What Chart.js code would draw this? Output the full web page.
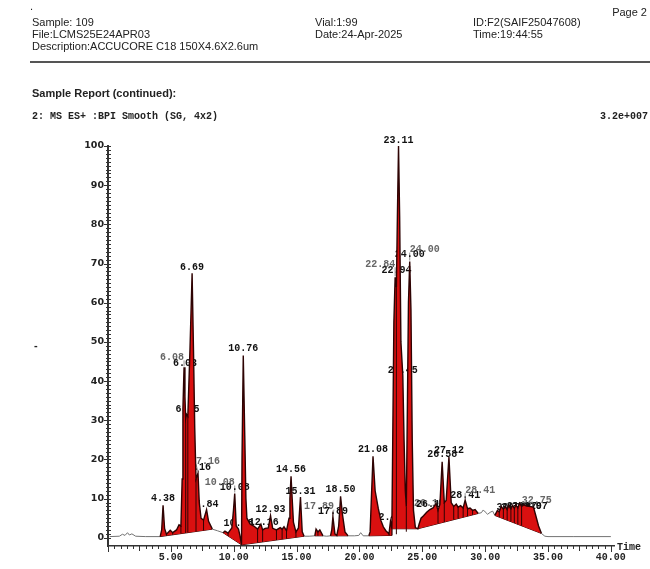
<!DOCTYPE html>
<html>
<head>
<meta charset="utf-8">
<script src="https://cdn.jsdelivr.net/npm/chart.js@4.4.1/dist/chart.umd.min.js"></script>
<style>
  body { margin: 0; background: #fff; }
  #page { position: relative; width: 650px; height: 569px; overflow: hidden;
          font-family: "Liberation Sans", Arial, sans-serif; color: #222; }
  .t { position: absolute; font-size: 11px; line-height: 12px; white-space: pre; }
  .m { font-family: "Liberation Mono", monospace; font-size: 10px; font-weight: bold; }
  #rule { position: absolute; left: 30px; top: 61px; width: 620px; height: 0;
          border-top: 2px solid #555; }
  #chart { position: absolute; left: 0; top: 0; }
</style>
</head>
<body>
<div id="page">
  <canvas id="chart" width="650" height="569"></canvas>
  <div class="t" style="left:30px;top:0px;">.</div>
  <div class="t" style="right:3px;top:6px;">Page 2</div>
  <div class="t" style="left:32px;top:16px;">Sample: 109</div>
  <div class="t" style="left:32px;top:28px;">File:LCMS25E24APR03</div>
  <div class="t" style="left:32px;top:40px;">Description:ACCUCORE C18 150X4.6X2.6um</div>
  <div class="t" style="left:315px;top:16px;">Vial:1:99</div>
  <div class="t" style="left:315px;top:28px;">Date:24-Apr-2025</div>
  <div class="t" style="left:473px;top:16px;">ID:F2(SAIF25047608)</div>
  <div class="t" style="left:473px;top:28px;">Time:19:44:55</div>
  <div id="rule"></div>
  <div class="t" style="left:32px;top:87px;font-weight:bold;">Sample Report (continued):</div>
  <div class="t m" style="left:32px;top:111px;">2: MS ES+ :BPI Smooth (SG, 4x2)</div>
  <div class="t m" style="right:2px;top:111px;">3.2e+007</div>
  <div class="t" style="left:34px;top:339px;font-weight:bold;">-</div>
</div>
<script>
// retention time (min) and relative intensity (%) of the BPI trace
const signalTime = [
  0.13, 0.9, 1.15, 1.35, 1.55, 1.7, 1.9, 2.2, 3.0, 4.15,
  4.27, 4.38, 4.5, 4.65, 4.95, 5.15, 5.45, 5.65, 5.8, 5.9,
  5.96, 6.05, 6.12, 6.18, 6.25, 6.35, 6.52, 6.69, 6.8, 6.9, 7.0,
  7.16, 7.26, 7.4, 7.6, 7.84, 8.0, 8.3, 8.7, 9.15, 9.3,
  9.55, 9.85, 9.98, 10.08, 10.2, 10.38, 10.5, 10.62, 10.66, 10.76,
  10.88, 10.97, 11.05, 11.3, 11.6, 11.9, 12.16, 12.3, 12.5, 12.75,
  12.93, 13.1, 13.4, 13.7, 13.85, 14.0, 14.2, 14.4, 14.47, 14.56, 14.65, 14.75,
  14.95, 15.15, 15.31, 15.45, 15.6, 16.0, 16.45, 16.55, 16.7, 16.85,
  17.1, 17.4, 17.7, 17.8, 17.89, 18.05, 18.2, 18.35, 18.5, 18.65,
  18.85, 19.1, 19.6, 19.95, 20.1, 20.3, 20.75, 20.85, 20.95, 21.08,
  21.25, 21.5, 21.7, 21.9, 22.1, 22.35, 22.47, 22.58, 22.65, 22.74,
  22.84, 22.94, 23.02, 23.11, 23.2, 23.3, 23.45, 23.55, 23.65, 23.73, 23.82,
  23.9, 24.0, 24.1, 24.2, 24.3, 24.45, 24.65, 24.75, 24.9, 25.1,
  25.35, 25.6, 25.85, 26.1, 26.25, 26.4, 26.58, 26.75, 26.9, 27.12,
  27.3, 27.5, 27.7, 27.85, 28.05, 28.25, 28.41, 28.6, 28.8, 29.0,
  29.2, 29.45, 29.7, 29.85, 30.0, 30.2, 30.4, 30.6, 30.77, 30.98,
  31.12, 31.28, 31.45, 31.6, 31.75, 31.87, 32.05, 32.19, 32.32, 32.45,
  32.6, 32.75, 32.9, 33.07, 33.3, 33.6, 33.85, 34.0, 34.25, 34.48,
  34.75, 35.0, 37.0, 40.0
];
const signalIntensity = [
  0.3, 0.4, 0.9, 0.6, 1.3, 0.7, 1.0, 0.4, 0.3, 0.3,
  2.0, 8.3, 2.4, 0.9, 1.9, 1.3, 2.0, 3.3, 3.0, 15,
  33, 43.5, 36, 30.5, 31.5, 31, 48, 67.5, 48, 28, 15,
  16.5, 9, 5, 4.5, 7.2, 4.2, 2.2, 1.8, 1.3, 1.7,
  1.2, 2.5, 7, 11.3, 3.0, 2.2, 0.5, -1.8, 20, 46.5,
  26, 10, 5, 3.5, 3.0, 2.2, 3.5, 2.0, 2.4, 2.5,
  5.6, 2.4, 2.0, 2.6, 2.2, 2.8, 1.8, 5, 10, 15.7, 10, 4,
  1.5, 2.5, 10.4, 1.5, 0.4, 0.4, 0.5, 2.2, 1.5, 2.0,
  0.5, 0.4, 0.5, 2.0, 5.4, 1.0, 0.6, 3.0, 10.6, 6.0,
  1.5, 0.5, 0.5, 0.6, 1.3, 0.5, 0.5, 1.5, 10.0, 20.8,
  12, 7.5, 4.5, 2.8, 1.8, 1.0, 4.2, 2.3, 25, 55,
  66.5, 64, 82, 100, 82, 50, 41.5, 25, 12, 8, 35,
  60, 70.5, 58, 25, 7, 2.6, 2.3, 3.5, 5.0, 5.6,
  6.5, 7.2, 7.6, 8.7, 7.0, 8.5, 19.4, 9.0, 9.5, 20.6,
  9.0, 8.0, 8.6, 7.8, 8.2, 7.6, 9.6, 7.4, 7.6, 7.0,
  7.2, 6.2, 6.4, 7.1, 6.6, 6.0, 6.5, 6.8, 5.7, 7.0,
  6.6, 8.0, 7.3, 7.9, 7.2, 8.2, 7.4, 8.3, 7.5, 8.4,
  7.6, 8.8, 8.0, 8.4, 8.1, 8.0, 7.8, 6.0, 3.0, 1.1,
  0.4, 0.3, 0.3, 0.3
];

// integration baselines drawn under the peaks: [time, intensity] anchors
const baselineSegments = [
  [[4.15, 0.3], [8.3, 2.2]],
  [[9.15, 1.3], [10.62, -1.8], [15.6, 0.4]],
  [[16.45, 0.5], [17.1, 0.5]],
  [[17.7, 0.5], [19.1, 0.5]],
  [[20.75, 0.5], [22.58, 0.6], [22.58, 2.3], [24.65, 2.3]],
  [[24.65, 2.3], [29.45, 6.2]],
  [[30.77, 5.7], [34.48, 1.1]]
];

// peak annotations
const peakLabelText = [
  '4.38', '6.08', '6.03', '6.69', '6.25', '7.16', '7.16', '7.84',
  '10.08', '10.08', '10.76', '10.38', '12.16', '12.93', '14.56', '15.31',
  '17.89', '17.89', '18.50', '21.08', '22.47', '22.84', '22.94', '23.11',
  '24.00', '24.00', '23.45', '26.10', '26.10', '26.58', '27.12', '28.41',
  '28.41', '30.98', '31.28', '31.87', '32.19', '33.07', '32.75'
];
const peakLabelTime = [
  4.38, 6.05, 6.05, 6.69, 6.25, 7.16, 7.16, 7.84,
  10.08, 10.08, 10.76, 10.38, 12.16, 12.93, 14.56, 15.31,
  17.89, 17.89, 18.5, 21.08, 22.47, 22.84, 22.94, 23.11,
  24.0, 24.0, 23.45, 26.1, 26.1, 26.58, 27.12, 28.41,
  28.41, 30.98, 31.28, 31.87, 32.19, 33.07, 32.75
];
const peakLabelHeight = [
  8.3, 43.5, 43.5, 67.5, 31.5, 16.5, 16.5, 7.2,
  11.3, 11.3, 46.5, 2.2, 3.5, 5.6, 15.7, 10.4,
  5.4, 5.4, 10.6, 20.8, 4.2, 66.5, 64, 100,
  70.5, 70.5, 41.5, 8.7, 8.7, 19.4, 20.6, 9.6,
  9.6, 7.0, 8.0, 8.2, 8.3, 8.4, 8.8
];

const xTickValues = [5, 10, 15, 20, 25, 30, 35, 40];
const yTickValues = [0, 10, 20, 30, 40, 50, 60, 70, 80, 90, 100];

// label placement (pixel shift from the default spot above the apex) and muted labels
const labelShift = [
  [0, 0], [-12, -3], [1, 3], [0, 1], [1, 2], [1, 1], [10, -5], [0, 2],
  [-15, -4], [0, 1], [0, 0], [0, 1], [3, 5], [0, 1], [0, 0], [0, 1],
  [-14, -3], [0, 2], [0, 0], [0, 0], [-3, 3], [-15, -6], [0, -10], [0, 1],
  [15, -5], [0, 0], [0, 2], [-7, 7], [-5, 8], [0, 0], [0, 0], [0, 2],
  [15, -3], [14, 4], [15, 8], [13, 8], [14, 8], [9, 9], [17, 4]
];
const labelMuted = [
  false, true, false, false, false, false, true, false,
  true, false, false, false, false, false, false, false,
  true, false, false, false, false, true, false, false,
  true, false, false, true, false, false, false, false,
  true, false, false, false, false, false, true
];

const FILL_RED = 'rgb(218, 16, 16)';
const PEAK_EDGE = '#2e0303';
const TRACE_GREY = '#727272';

function inWindow(t) {
  return baselineSegments.some(seg => t > seg[0][0] && t < seg[seg.length - 1][0]);
}

const signalPoints = signalTime.map((t, i) => ({ x: t, y: signalIntensity[i] }));

// baseline follows the trace except where an integration line replaces it
const baselinePoints = [];
signalPoints.forEach(p => {
  if (!baselineSegments.some(seg => p.x >= seg[0][0] && p.x <= seg[seg.length - 1][0])) {
    baselinePoints.push(p);
  }
});
baselineSegments.forEach(seg => seg.forEach(([t, v]) => baselinePoints.push({ x: t, y: v })));
baselinePoints.sort((a, b) => a.x - b.x);

const segColor = (ctx, inside, outside) =>
  inWindow((ctx.p0.parsed.x + ctx.p1.parsed.x) / 2) ? inside : outside;

const peakLabels = {
  id: 'peakLabels',
  beforeDatasetsDraw(chart) {
    const { ctx, scales: { x, y } } = chart;
    ctx.save();
    ctx.font = 'bold 10px "Liberation Mono", monospace';
    ctx.textAlign = 'center';
    ctx.textBaseline = 'middle';
    peakLabelText.forEach((txt, i) => {
      const px = x.getPixelForValue(peakLabelTime[i]);
      const py = y.getPixelForValue(peakLabelHeight[i]);
      const cx = px + labelShift[i][0];
      const cy = py - 7 + labelShift[i][1];
      if (labelMuted[i]) {
        const w = ctx.measureText(txt).width;
        ctx.strokeStyle = '#777';
        ctx.lineWidth = 0.8;
        ctx.beginPath();
        ctx.moveTo(cx + (labelShift[i][0] < 0 ? w / 2 : -w / 2), cy + 3);
        ctx.lineTo(px, py - 1);
        ctx.stroke();
        ctx.fillStyle = '#666';
      } else {
        ctx.fillStyle = '#111';
      }
      ctx.fillText(txt, cx, cy);
    });
    ctx.restore();
  }
};

// vertical drop lines from each valley inside an integrated window down to its baseline
const dropLines = {
  id: 'dropLines',
  afterDatasetsDraw(chart) {
    const { ctx, scales: { x, y } } = chart;
    const base = chart.getDatasetMeta(1).dataset;
    if (!base || !base.interpolate) return;
    ctx.save();
    ctx.strokeStyle = PEAK_EDGE;
    ctx.lineWidth = 1;
    ctx.beginPath();
    for (let i = 1; i < signalTime.length - 1; i++) {
      const v = signalIntensity[i];
      if (v < signalIntensity[i - 1] && v < signalIntensity[i + 1] && inWindow(signalTime[i])) {
        const px = x.getPixelForValue(signalTime[i]);
        const hit = base.interpolate({ x: px }, 'x');
        if (!hit) continue;
        ctx.moveTo(px, y.getPixelForValue(v));
        ctx.lineTo(px, hit.y);
      }
    }
    ctx.stroke();
    ctx.restore();
  }
};

const axisTicks = {
  id: 'axisTicks',
  afterDraw(chart) {
    const { ctx, chartArea, scales: { x, y } } = chart;
    ctx.save();
    ctx.strokeStyle = '#333';
    ctx.lineWidth = 1;
    ctx.beginPath();
    const ax = chartArea.left;
    for (let v = 0; v <= 100; v++) {
      const py = Math.round(y.getPixelForValue(v)) + 0.5;
      ctx.moveTo(ax - (v % 10 === 0 ? 4 : 2), py);
      ctx.lineTo(ax + 3, py);
    }
    const ay = chartArea.bottom;
    for (let t = 0; t <= 40; t += 0.5) {
      const px = Math.round(x.getPixelForValue(t)) + 0.5;
      const len = t % 5 === 0 ? 6 : (t % 2.5 === 0 ? 5 : 3);
      ctx.moveTo(px, ay);
      ctx.lineTo(px, ay + len);
    }
    ctx.stroke();
    ctx.fillStyle = '#222';
    ctx.font = 'bold 10px "Liberation Mono", monospace';
    ctx.textAlign = 'left';
    ctx.textBaseline = 'middle';
    ctx.fillText('Time', chartArea.right + 3, ay + 1);
    ctx.restore();
  }
};

new Chart(document.getElementById('chart'), {
  type: 'line',
  data: {
    datasets: [
      {
        label: 'BPI',
        data: signalPoints,
        borderWidth: 1.4,
        borderColor: TRACE_GREY,
        segment: {
          borderColor: ctx => segColor(ctx, PEAK_EDGE, TRACE_GREY),
          borderWidth: ctx => segColor(ctx, 1.4, 1)
        },
        pointRadius: 0,
        tension: 0,
        fill: { target: 1, above: FILL_RED, below: FILL_RED }
      },
      {
        label: 'baseline',
        data: baselinePoints,
        borderWidth: 1,
        borderColor: 'rgba(0,0,0,0)',
        segment: { borderColor: ctx => segColor(ctx, PEAK_EDGE, 'rgba(0,0,0,0)') },
        pointRadius: 0,
        tension: 0,
        fill: false
      }
    ]
  },
  options: {
    responsive: false,
    animation: false,
    layout: { padding: { top: 146, right: 36, left: 0, bottom: 0 } },
    plugins: { legend: { display: false }, tooltip: { enabled: false } },
    scales: {
      x: {
        type: 'linear',
        min: 0,
        max: 40.25,
        afterBuildTicks: s => { s.ticks = xTickValues.map(v => ({ value: v })); },
        afterFit: s => { s.height = 23; },
        ticks: {
          callback: v => v.toFixed(2),
          font: { family: '"Liberation Mono", monospace', size: 10, weight: 'bold' },
          color: '#222',
          padding: 5,
          maxRotation: 0,
          autoSkip: false
        },
        grid: { display: false, drawTicks: false },
        border: { display: true, color: '#333', width: 1.5 }
      },
      y: {
        type: 'linear',
        min: -2.1,
        max: 100,
        afterBuildTicks: s => { s.ticks = yTickValues.map(v => ({ value: v })); },
        afterFit: s => { s.width = 108; },
        ticks: {
          callback: v => String(v),
          font: { family: '"DejaVu Sans", sans-serif', size: 9.5, weight: 'bold' },
          color: '#222',
          padding: 4
        },
        grid: { display: false, drawTicks: false },
        border: { display: true, color: '#333', width: 2 }
      }
    }
  },
  plugins: [peakLabels, dropLines, axisTicks]
});
</script>
</body>
</html>
